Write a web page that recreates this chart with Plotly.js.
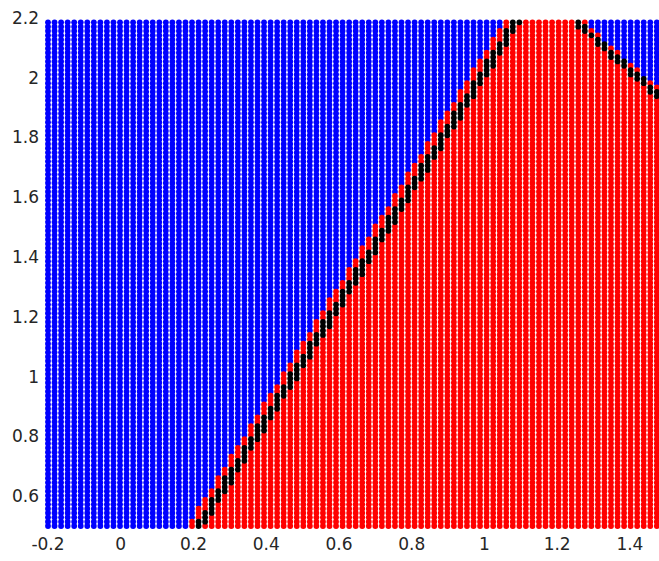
<!DOCTYPE html>
<html>
<head>
<meta charset="utf-8">
<script src="https://cdn.plot.ly/plotly-3.0.1.min.js"></script>
<style>
html,body{margin:0;padding:0;background:#fff;}
#chart{width:659px;height:561px;}
</style>
</head>
<body>
<div id="chart"></div>
<script>
// ---- values ----
// grid of sample points
const gridXStart = -0.2, gridXStep = 0.018, gridXCount = 94;
const gridYStart = 0.5, gridYStep = 0.01453, gridYCount = 118;
// left decision line (centre of black dots), given as two points (y, x)
const leftLineY = [0.5, 2.2];
const leftLineX = [0.217, 1.0935];
// right decision line (centre of black dots)
const rightLineY = [2.2, 1.9];
const rightLineX = [1.241, 1.514];
// half width of the black band and how far red extends past it (x units)
const blackHalfWidth = [0.0135, 0.0125];
const redOverhang = [0.034, 0.022];
// axis ticks
const xTickVals = [-0.2, 0, 0.2, 0.4, 0.6, 0.8, 1, 1.2, 1.4];
const xTickText = ['-0.2', '0', '0.2', '0.4', '0.6', '0.8', '1', '1.2', '1.4'];
const yTickVals = [0.6, 0.8, 1, 1.2, 1.4, 1.6, 1.8, 2, 2.2];
const yTickText = ['0.6', '0.8', '1', '1.2', '1.4', '1.6', '1.8', '2', '2.2'];

function lineX(ys, xs, y) {
  return xs[0] + (y - ys[0]) * (xs[1] - xs[0]) / (ys[1] - ys[0]);
}

const blue = {x: [], y: []}, red = {x: [], y: []}, black = {x: [], y: []};
for (let j = 0; j < gridYCount; j++) {
  const y = gridYStart + j * gridYStep;
  for (let i = 0; i < gridXCount; i++) {
    const x = gridXStart + i * gridXStep;
    const h1 = x - lineX(leftLineY, leftLineX, y);   // >0 on red side
    const h2 = lineX(rightLineY, rightLineX, y) - x; // >0 on red side
    let target;
    if ((Math.abs(h1) <= blackHalfWidth[0] && h2 > 0) ||
        (Math.abs(h2) <= blackHalfWidth[1] && h1 > 0)) target = black;
    else if (h1 > -redOverhang[0] && h2 > -redOverhang[1]) target = red;
    else target = blue;
    target.x.push(x); target.y.push(y);
  }
}

function tr(d, color) {
  return {
    x: d.x, y: d.y, type: 'scatter', mode: 'markers', cliponaxis: false,
    hoverinfo: 'skip',
    marker: {color: color, size: 5.8, line: {width: 0}}
  };
}

const font = {family: 'DejaVu Sans', size: 17, color: '#262626'};
const layout = {
  width: 659, height: 561,
  margin: {l: 48, r: 0, t: 18, b: 35, pad: 0},
  paper_bgcolor: '#ffffff', plot_bgcolor: '#ffffff',
  showlegend: false,
  font: font,
  xaxis: {
    range: [-0.2, 1.48], showgrid: false, zeroline: false, showline: false,
    tickmode: 'array', tickvals: xTickVals, ticktext: xTickText,
    ticks: '', ticklabelstandoff: 6, tickfont: font
  },
  yaxis: {
    range: [0.5, 2.2], showgrid: false, zeroline: false, showline: false,
    tickmode: 'array', tickvals: yTickVals, ticktext: yTickText,
    ticks: '', ticklabelstandoff: 8, tickfont: font
  }
};

Plotly.newPlot('chart', [tr(blue, '#0000ff'), tr(red, '#ff0000'), tr(black, '#000000')], layout,
  {staticPlot: true, displayModeBar: false});
</script>
</body>
</html>
